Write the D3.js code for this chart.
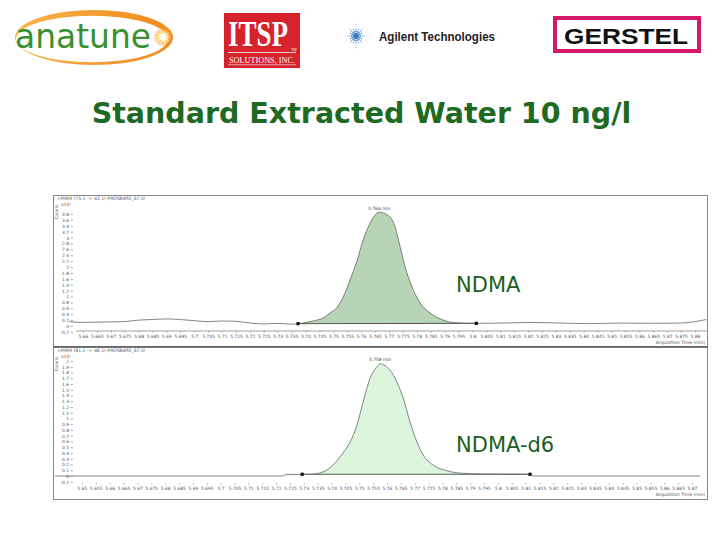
<!DOCTYPE html>
<html><head><meta charset="utf-8">
<script src="https://cdn.jsdelivr.net/npm/d3@7"></script>
<style>html,body{margin:0;padding:0;background:#fff}</style>
</head><body>
<script>
// ---------- data ----------
const titleText = "Standard Extracted Water 10 ng/l";
const compoundNames = ["NDMA", "NDMA-d6"];
const traceHeaders = ["+MRM (75.1 -> 43.1) PROS8492_07.D", "+MRM (81.1 -> 46.1) PROS8492_07.D"];
const peakLabels = ["5.766 min", "5.758 min"];

const topXTicks = [5.66,5.665,5.67,5.675,5.68,5.685,5.69,5.695,5.7,5.705,5.71,5.715,5.72,5.725,5.73,5.735,5.74,5.745,5.75,5.755,5.76,5.765,5.77,5.775,5.78,5.785,5.79,5.795,5.8,5.805,5.81,5.815,5.82,5.825,5.83,5.835,5.84,5.845,5.85,5.855,5.86,5.865,5.87,5.875,5.88];
const bottomXTicks = [5.65,5.655,5.66,5.665,5.67,5.675,5.68,5.685,5.69,5.695,5.7,5.705,5.71,5.715,5.72,5.725,5.73,5.735,5.74,5.745,5.75,5.755,5.76,5.765,5.77,5.775,5.78,5.785,5.79,5.795,5.8,5.805,5.81,5.815,5.82,5.825,5.83,5.835,5.84,5.845,5.85,5.855,5.86,5.865,5.87];
const topYTicks = [-0.2,0,0.2,0.4,0.6,0.8,1,1.2,1.4,1.6,1.8,2,2.2,2.4,2.6,2.8,3,3.2,3.4,3.6,3.8];
const bottomYTicks = [-0.1,0,0.1,0.2,0.3,0.4,0.5,0.6,0.7,0.8,0.9,1,1.1,1.2,1.3,1.4,1.5,1.6,1.7,1.8,1.9,2];

// NDMA trace (acquisition time in min, counts x10^1)
const topTime = [5.655,5.66,5.665,5.67,5.675,5.68,5.685,5.69,5.695,5.70,5.705,5.71,5.715,5.72,5.725,5.73,5.735,
  5.7373,5.7427,5.7463,5.7488,5.7514,5.7535,5.756,5.7586,5.7607,5.7632,5.7665,5.7704,5.7722,5.774,5.7758,5.7783,5.7812,5.7848,5.7895,5.7938,5.8014,
  5.81,5.8208,5.8316,5.8424,5.8532,5.864,5.8748,5.8819,5.884];
const topValue = [0.15,0.12,0.13,0.14,0.15,0.2,0.22,0.24,0.22,0.18,0.15,0.17,0.16,0.10,0.07,0.09,0.06,
  0.08,0.17,0.27,0.44,0.64,0.98,1.56,2.24,2.92,3.49,3.86,3.70,3.36,2.68,2.0,1.32,0.78,0.44,0.2,0.11,0.09,
  0.1,0.12,0.1,0.08,0.1,0.09,0.1,0.18,0.22];
const topPeakStart = [5.7373, 0.08];
const topPeakEnd = [5.8014, 0.09];

// NDMA-d6 trace
const bottomTime = [5.6403,5.7225,5.7235,5.7294,5.7322,5.7369,5.7405,5.7441,5.7467,5.7492,5.7514,5.7539,5.7564,5.7575,5.7611,5.7636,5.7658,5.7683,5.7708,5.773,5.7766,5.7817,5.7863,5.795,5.8116,5.8125,5.8729];
const bottomValue = [0,0,0.025,0.03,0.03,0.07,0.19,0.4,0.59,0.89,1.29,1.70,1.90,1.95,1.84,1.63,1.36,0.94,0.59,0.37,0.19,0.09,0.05,0.035,0.03,0,0];
const bottomPeakStart = [5.7294, 0.03];
const bottomPeakEnd = [5.8116, 0.03];

// ---------- drawing ----------
const W = 720, H = 540;
const svg = d3.select("body").append("svg").attr("width", W).attr("height", H)
  .style("font-family", "'DejaVu Sans', Verdana, sans-serif");
svg.append("rect").attr("width", W).attr("height", H).attr("fill", "#fff");

// ---- logos ----
const logos = svg.append("g");
const defs = svg.append("defs");
const og = defs.append("linearGradient").attr("id", "og").attr("x1", 0).attr("x2", 1);
og.append("stop").attr("offset", "0%").attr("stop-color", "#f8b24a");
og.append("stop").attr("offset", "100%").attr("stop-color", "#f08a1c");
const sg = defs.append("radialGradient").attr("id", "sg");
sg.append("stop").attr("offset", "0%").attr("stop-color", "#fffbe6");
sg.append("stop").attr("offset", "45%").attr("stop-color", "#ffd36a");
sg.append("stop").attr("offset", "100%").attr("stop-color", "#f08a1c").attr("stop-opacity", 0);
function ell(cx, cy, rx, ry) {
  return `M${cx - rx},${cy} A${rx},${ry} 0 1,0 ${cx + rx},${cy} A${rx},${ry} 0 1,0 ${cx - rx},${cy} Z`;
}
logos.append("path").attr("d", ell(94, 37.5, 79, 27.5) + ell(92, 39, 76, 23.2))
  .attr("fill", "url(#og)").attr("fill-rule", "evenodd");
logos.append("text").attr("x", 15).attr("y", 48).attr("font-size", 33)
  .attr("fill", "#389030").attr("textLength", 136).attr("lengthAdjust", "spacingAndGlyphs").text("anatune");
logos.append("circle").attr("cx", 163).attr("cy", 37).attr("r", 10).attr("fill", "url(#sg)");
const star = d3.range(20).map(i => {
  const a = i * Math.PI / 10, r = i % 2 ? 2.5 : 8.5;
  return [163 + r * Math.cos(a), 37 + r * Math.sin(a)];
});
logos.append("polygon").attr("points", star.map(p => p.join(",")).join(" ")).attr("fill", "#fffdf0");

// ITSP
logos.append("rect").attr("x", 224).attr("y", 13).attr("width", 76).attr("height", 55).attr("fill", "#d6222a");
logos.append("text").attr("transform", "translate(228,46) scale(0.75,1)").attr("font-family", "'Liberation Serif', serif")
  .attr("font-weight", "bold").attr("font-size", 36).attr("fill", "#fff").text("ITSP");
logos.append("text").attr("x", 291).attr("y", 50.5).attr("font-family", "'Liberation Serif', serif")
  .attr("font-size", 3.8).attr("fill", "#fff").text("TM");
logos.append("line").attr("x1", 228).attr("x2", 296).attr("y1", 52.5).attr("y2", 52.5).attr("stroke", "#fff").attr("stroke-width", 0.8);
logos.append("text").attr("x", 229).attr("y", 62.5).attr("font-family", "'Liberation Serif', serif")
  .attr("font-size", 8).attr("fill", "#fff").attr("textLength", 66).attr("lengthAdjust", "spacingAndGlyphs").text("SOLUTIONS, INC.");
logos.append("line").attr("x1", 228).attr("x2", 296).attr("y1", 64.8).attr("y2", 64.8).attr("stroke", "#fff").attr("stroke-width", 0.6);

// Agilent spark
const spark = logos.append("g");
for (let i = 0; i < 16; i++) {
  const a = i * Math.PI / 8;
  const len = (i % 4 === 0) ? 6 : (i % 2 === 0 ? 4 : 3);
  for (let k = 1; k <= len; k++) {
    const r = k * 2.1;
    spark.append("circle").attr("cx", 356 + r * Math.cos(a)).attr("cy", 36 + r * 1.1 * Math.sin(a))
      .attr("r", Math.max(0.35, 1.2 - k * 0.15)).attr("fill", "#3a84c9").attr("opacity", 1 - k * 0.1);
  }
}
spark.append("circle").attr("cx", 356).attr("cy", 36).attr("r", 1.6).attr("fill", "#2f6fb0");
logos.append("text").attr("x", 379).attr("y", 41).attr("font-family", "'Liberation Sans', Arial, sans-serif")
  .attr("font-weight", "bold").attr("font-size", 12.5).attr("fill", "#222")
  .attr("textLength", 116).attr("lengthAdjust", "spacingAndGlyphs").text("Agilent Technologies");

// GERSTEL
logos.append("rect").attr("x", 555).attr("y", 18).attr("width", 144).attr("height", 33)
  .attr("fill", "#fff").attr("stroke", "#d3186a").attr("stroke-width", 4);
logos.append("text").attr("x", 564).attr("y", 43.5).attr("font-family", "'Liberation Sans', Arial, sans-serif")
  .attr("font-weight", "bold").attr("font-size", 22).attr("fill", "#111")
  .attr("textLength", 124).attr("lengthAdjust", "spacingAndGlyphs").text("GERSTEL");

// ---- title ----
svg.append("text").attr("x", 361.5).attr("y", 123).attr("text-anchor", "middle")
  .attr("font-weight", "bold").attr("font-size", 28.5).attr("fill", "#1f6a22").text(titleText);

// ---- chromatogram panels ----
const fmt = v => String(+v.toFixed(3));
const panels = [
  { top: 195, bottom: 346, time: topTime, value: topValue, xTicks: topXTicks, yTicks: topYTicks,
    xDom: [5.66, 5.88], xRange: [83, 695], yDom: [0, 3.8], yRange: [326, 214], axisY: 331, axisLine: true,
    start: topPeakStart, end: topPeakEnd, fill: "#b7d4b7", name: compoundNames[0], nameY: 292,
    header: traceHeaders[0], peakLabel: peakLabels[0] },
  { top: 347, bottom: 499, time: bottomTime, value: bottomValue, xTicks: bottomXTicks, yTicks: bottomYTicks,
    xDom: [5.65, 5.87], xRange: [82, 692], yDom: [0, 2], yRange: [476, 361], axisY: 483, axisLine: false,
    start: bottomPeakStart, end: bottomPeakEnd, fill: "#ddf5dd", name: compoundNames[1], nameY: 452,
    header: traceHeaders[1], peakLabel: peakLabels[1] }
];

panels.forEach((p) => {
  const g = svg.append("g");
  const x = d3.scaleLinear().domain(p.xDom).range(p.xRange);
  const y = d3.scaleLinear().domain(p.yDom).range(p.yRange);
  const pts = p.time.map((t, i) => [t, p.value[i]]);

  g.append("rect").attr("x", 53.5).attr("y", p.top + 0.5).attr("width", 654).attr("height", p.bottom - p.top)
    .attr("fill", "#fff").attr("stroke", "#8a8a8a").attr("stroke-width", 1);

  g.append("text").attr("x", 57).attr("y", p.top + 5).attr("font-size", 4.6).attr("fill", "#555").text(p.header);
  g.append("text").attr("transform", `translate(58,${p.top + 17}) rotate(-90)`).attr("font-size", 4.2)
    .attr("fill", "#555").attr("text-anchor", "middle").text("Counts");
  g.append("text").attr("x", 61).attr("y", p.top + 11).attr("font-size", 4.4).attr("fill", "#555").text("x10\u00B9");

  const peakPts = pts.filter(d => d[0] >= p.start[0] && d[0] <= p.end[0]);
  const baseAt = t => p.start[1] + (p.end[1] - p.start[1]) * (t - p.start[0]) / (p.end[0] - p.start[0]);
  const area = d3.area().x(d => x(d[0])).y0(d => y(baseAt(d[0]))).y1(d => y(d[1])).curve(d3.curveMonotoneX);
  g.append("path").datum(peakPts).attr("d", area).attr("fill", p.fill);

  g.append("line").attr("x1", x(p.start[0])).attr("y1", y(p.start[1])).attr("x2", x(p.end[0])).attr("y2", y(p.end[1]))
    .attr("stroke", "#444").attr("stroke-width", 0.9);

  const line = d3.line().x(d => x(d[0])).y(d => y(d[1])).curve(d3.curveMonotoneX);
  g.append("path").datum(pts).attr("d", line).attr("fill", "none").attr("stroke", "#666").attr("stroke-width", 0.8);

  [p.start, p.end].forEach(m => g.append("rect").attr("x", x(m[0]) - 1.6).attr("y", y(m[1]) - 1.6)
    .attr("width", 3.2).attr("height", 3.2).attr("fill", "#111"));

  const apex = pts.reduce((a, b) => b[1] > a[1] ? b : a);
  g.append("text").attr("x", x(apex[0])).attr("y", y(apex[1]) - 2.5).attr("text-anchor", "middle")
    .attr("font-size", 4.4).attr("fill", "#444").text(p.peakLabel);

  const yAx = g.append("g").attr("transform", "translate(73,0)")
    .call(d3.axisLeft(y).tickValues(p.yTicks).tickFormat(fmt).tickSize(2.5).tickPadding(1.5));
  yAx.select(".domain").remove();
  yAx.selectAll("text").attr("font-size", 4.4).attr("fill", "#555").attr("font-family", "'DejaVu Sans', sans-serif");
  yAx.selectAll("line").attr("stroke", "#777").attr("stroke-width", 0.6);

  if (p.axisLine) {
    g.append("line").attr("x1", 76).attr("x2", 707).attr("y1", p.axisY).attr("y2", p.axisY)
      .attr("stroke", "#777").attr("stroke-width", 0.7);
  }
  const xAx = g.append("g").attr("transform", `translate(0,${p.axisY})`)
    .call(d3.axisBottom(x).tickValues(p.xTicks).tickFormat(fmt).tickSize(1.5).tickPadding(2.5));
  xAx.select(".domain").remove();
  xAx.selectAll("text").attr("font-size", 4.4).attr("fill", "#555").attr("font-family", "'DejaVu Sans', sans-serif");
  xAx.selectAll("line").attr("stroke", "#777").attr("stroke-width", 0.6);
  g.append("text").attr("x", 705).attr("y", p.axisY + 13).attr("text-anchor", "end").attr("font-size", 4.4)
    .attr("fill", "#555").text("Acquisition Time (min)");

  g.append("text").attr("x", 456).attr("y", p.nameY).attr("font-size", 21).attr("fill", "#1b5e1e").text(p.name);
});
svg.append("line").attr("x1", 53).attr("x2", 708).attr("y1", 346.8).attr("y2", 346.8).attr("stroke", "#666").attr("stroke-width", 1.6);
</script>
</body></html>
